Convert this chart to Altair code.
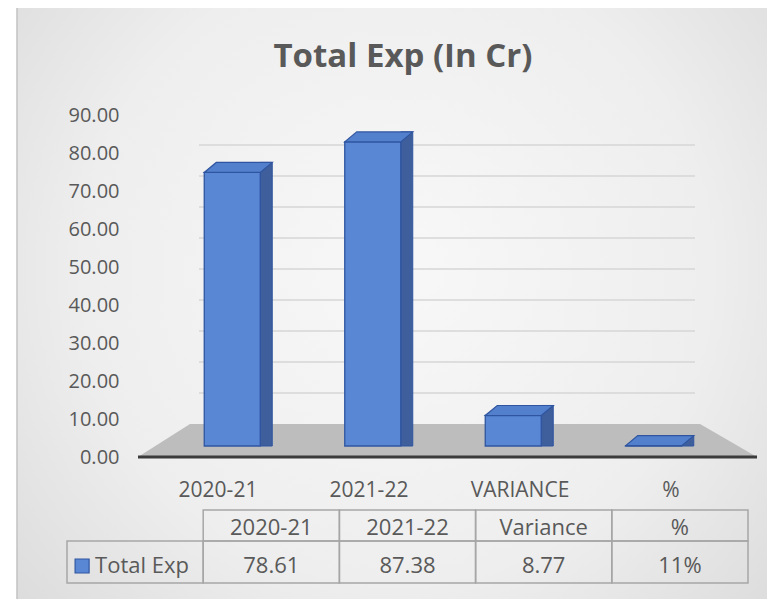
import altair as alt
import pandas as pd

# ---------------- data ----------------
TITLE = "Total Exp (In Cr)"
SERIES = "Total Exp"
categories = ["2020-21", "2021-22", "VARIANCE", "%"]
table_headers = ["2020-21", "2021-22", "Variance", "%"]
values = [78.61, 87.38, 8.77, 0.11]
y_ticks = [0, 10, 20, 30, 40, 50, 60, 70, 80, 90]
table_labels = [f"{v:.2f}" for v in values[:3]] + [f"{values[3]:.0%}"]

# ---------------- styling ----------------
W, H = 620, 342
FONT = "Open Sans"
TXT = "#595959"
FRONT = "#5a87d4"
SIDE = "#3e5e9c"
TOP = "#5380cc"
EDGE = "#2f55a0"
BW, DX, DY = 56, 12, 10
LABEL_KEY = "__series__"

bars_df = pd.DataFrame({"cat": categories, "value": values})
ticks_df = pd.DataFrame({"v": y_ticks})
grid_df = pd.DataFrame({"v": y_ticks[1:]})
one_df = pd.DataFrame({"t": [TITLE]})
header_df = pd.DataFrame({"col": table_headers, "text": table_headers})
row_df = pd.DataFrame({"col": table_headers, "text": table_labels})
rowcells_df = pd.DataFrame({"col": [LABEL_KEY] + table_headers})
label_df = pd.DataFrame({"col": [LABEL_KEY], "text": [SERIES]})

main_y = alt.Scale(domain=[0, 90], nice=False, zero=False)
wall_y = alt.Scale(domain=[-10.645, 99.68], nice=False, zero=False)
bar_y = alt.Scale(domain=[-3.16, 95.11], nice=False, zero=False)
axis_x = alt.Scale(type="band", domain=categories, range=[5.5, 609.5], paddingInner=0, paddingOuter=0)
bar_x = alt.Scale(type="band", domain=categories, range=[25, 587], paddingInner=0, paddingOuter=0)
table_x = alt.Scale(type="band", domain=[LABEL_KEY] + table_headers, range=[-70, 611],
                    paddingInner=0, paddingOuter=0)

bg_grad = alt.RadialGradient(
    gradient="radial",
    stops=[alt.GradientStop(color="#f8f8f8", offset=0),
           alt.GradientStop(color="#eeeeee", offset=0.55),
           alt.GradientStop(color="#d6d6d6", offset=1)],
    x1=0.5, y1=0.45, r1=0, x2=0.5, y2=0.45, r2=0.75,
)

frame = alt.Chart(one_df).mark_rect(fill=bg_grad, stroke="#c2c2c2", strokeWidth=1.5).encode(
    x=alt.value(-120), x2=alt.value(640), y=alt.value(-108), y2=alt.value(492)
)

title = alt.Chart(one_df).mark_text(
    font=FONT, fontSize=33, fontWeight="bold", color=TXT, align="center", baseline="alphabetic"
).encode(x=alt.value(266), y=alt.value(-48), text="t:N")

floor_path = "M-1,0 L-0.832,-0.1066 L0.816,-0.1066 L1,0 Z"
floor = alt.Chart(one_df).mark_point(
    shape=floor_path, filled=True, fill="#bdbdbd", opacity=1, size=383161, strokeWidth=0
).encode(x=alt.value(310.5), y=alt.value(H))

grid = alt.Chart(grid_df).mark_rule(color="#d6d6d6", strokeWidth=1.5).encode(
    y=alt.Y("v:Q", scale=wall_y, axis=None), x=alt.value(62), x2=alt.value(558)
)

yaxis = alt.Chart(ticks_df).mark_rule(opacity=0).encode(
    y=alt.Y("v:Q", scale=main_y, axis=alt.Axis(
        values=y_ticks, format=".2f", title=None, grid=False, domain=False, ticks=False,
        labelFont=FONT, labelFontSize=20, labelColor=TXT, labelPadding=18, zindex=1))
)

baseline = alt.Chart(one_df).mark_rule(color="#3b3b3b", strokeWidth=3).encode(
    x=alt.value(1), x2=alt.value(620), y=alt.value(H)
)

xaxis = alt.Chart(bars_df).mark_point(opacity=0).encode(
    x=alt.X("cat:N", scale=axis_x, sort=categories, axis=alt.Axis(
        title=None, domain=False, ticks=False, grid=False, labelAngle=0,
        labelFont=FONT, labelFontSize=21, labelColor=TXT, labelPadding=22, zindex=1)),
    y=alt.value(H)
)

bx = alt.X("cat:N", scale=bar_x, sort=categories, axis=None)
by = alt.Y("value:Q", scale=bar_y, axis=None)

side = alt.Chart(bars_df).mark_bar(
    width=DX, xOffset=BW / 2 + DX / 2, yOffset=-DY, y2Offset=0,
    fill=SIDE, stroke=EDGE, strokeWidth=1
).encode(x=bx, y=by, y2=alt.datum(0))

front = alt.Chart(bars_df).mark_bar(
    width=BW, fill=FRONT, stroke=EDGE, strokeWidth=1.3
).encode(x=bx, y=by, y2=alt.datum(0))

top_path = "M-0.7,0 L0.7,0 L1,-0.25 L-0.4,-0.25 Z"
top = alt.Chart(bars_df).mark_point(
    shape=top_path, filled=True, fill=TOP, opacity=1, size=6400, stroke=EDGE, strokeWidth=1.2
).encode(x=bx, y=by)

tx = alt.X("col:N", scale=table_x, axis=None)
hdr_cells = alt.Chart(header_df).mark_rect(fill="transparent", stroke="#a6a6a6", strokeWidth=1.5).encode(
    x=tx, y=alt.value(395), y2=alt.value(426))
row_cells = alt.Chart(rowcells_df).mark_rect(fill="transparent", stroke="#a6a6a6", strokeWidth=1.5).encode(
    x=tx, y=alt.value(426), y2=alt.value(468))
hdr_text = alt.Chart(header_df).mark_text(
    font=FONT, fontSize=22, color=TXT, baseline="alphabetic", align="center"
).encode(x=tx, y=alt.value(420), text="text:N")
row_text = alt.Chart(row_df).mark_text(
    font=FONT, fontSize=22, color=TXT, baseline="alphabetic", align="center"
).encode(x=tx, y=alt.value(458), text="text:N")
lbl_text = alt.Chart(label_df).mark_text(
    font=FONT, fontSize=22, color=TXT, baseline="alphabetic", align="left", xOffset=-40
).encode(x=tx, y=alt.value(458), text="text:N")
swatch = alt.Chart(label_df).mark_point(
    shape="square", filled=True, fill=FRONT, stroke=EDGE, strokeWidth=1.2, opacity=1, size=196, xOffset=-53
).encode(x=tx, y=alt.value(451))

chart = alt.layer(
    frame, title, floor, grid, yaxis, baseline, xaxis, side, front, top,
    hdr_cells, row_cells, hdr_text, row_text, lbl_text, swatch
).resolve_scale(x="independent", y="independent").properties(
    width=W, height=H,
    autosize=alt.AutoSizeParams(type="none"),
    padding={"left": 129, "top": 107, "right": 10, "bottom": 142},
    background="white",
).configure_view(stroke=None)

chart.save("out.html", embed_options={"renderer": "svg", "actions": False})
